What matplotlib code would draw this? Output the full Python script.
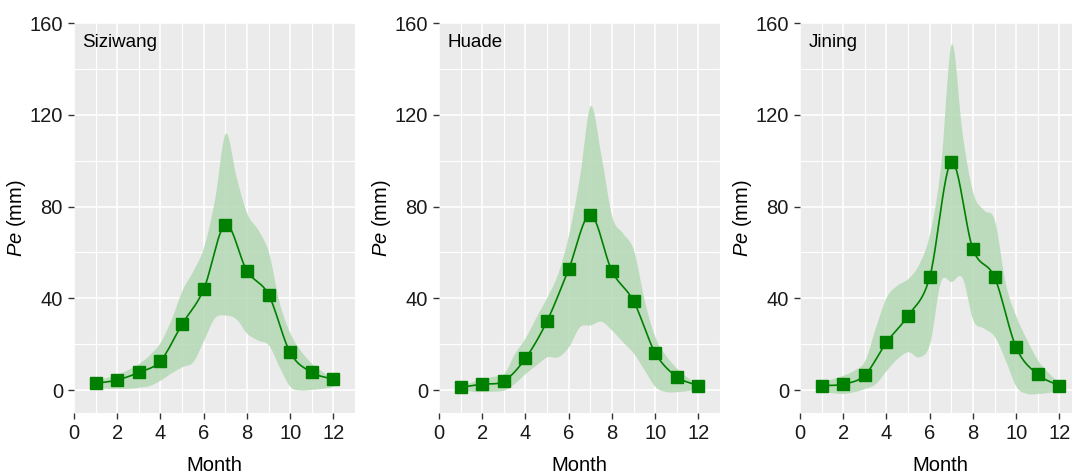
import numpy as np
import matplotlib
matplotlib.use("Agg")
import matplotlib.pyplot as plt
from matplotlib.ticker import MultipleLocator

plt.rcParams['font.family'] = ['Liberation Sans', 'DejaVu Sans']
plt.rcParams['mathtext.fontset'] = 'custom'
plt.rcParams['mathtext.it'] = 'Liberation Sans:italic'
plt.rcParams['mathtext.rm'] = 'Liberation Sans'

# monthly mean effective precipitation (markers)
months = np.arange(1, 13)
stations = ['Siziwang', 'Huade', 'Jining']
pe_siziwang = [2.9, 4.4, 7.7, 12.7, 28.7, 43.9, 72.0, 52.0, 41.6, 16.4, 7.7, 4.7]
pe_huade = [1.2, 2.6, 3.9, 13.8, 30.1, 52.7, 76.4, 51.9, 38.8, 16.3, 5.8, 1.9]
pe_jining = [1.9, 2.6, 6.5, 20.8, 32.4, 49.2, 99.3, 61.4, 49.2, 18.6, 6.8, 1.9]

# range band, read every half month
band_x = np.arange(1, 12.5, 0.5)
upper_siziwang = [4.0, 5.5, 6.8, 9.0, 11.6, 15.5, 21.0, 31.0, 43.6, 52.0, 62.5, 83.0, 112.0, 93.0,
                  77.0, 70.0, 60.0, 38.0, 24.7, 17.0, 11.6, 8.0, 4.6]
lower_siziwang = [1.5, 0.8, 0.7, 0.8, 1.2, 2.0, 4.4, 7.5, 10.2, 12.4, 21.8, 31.5, 32.7, 31.0,
                  24.7, 21.8, 19.6, 10.0, 1.5, 0.0, 0.3, 0.8, 1.5]
upper_huade = [1.8, 3.5, 5.0, 6.0, 7.3, 16.0, 23.0, 32.0, 40.7, 51.0, 68.0, 93.0, 124.0, 102.0,
               75.6, 68.4, 61.0, 39.0, 23.0, 15.0, 9.5, 5.5, 3.0]
lower_huade = [0.5, -0.5, -0.7, -0.5, 0.0, 3.0, 7.3, 11.0, 14.5, 14.5, 19.0, 27.6, 28.4, 30.0,
               26.0, 21.0, 16.0, 8.7, 1.5, -0.7, -0.7, -0.2, 0.7]
upper_jining = [3.5, 5.0, 6.5, 8.7, 13.0, 27.6, 40.7, 45.8, 48.7, 55.0, 68.4, 97.5, 151.0, 112.0,
                86.0, 78.5, 74.0, 46.5, 32.0, 21.8, 13.0, 7.5, 3.0]
lower_jining = [-0.5, -1.2, -1.5, -0.7, 0.7, 2.9, 8.7, 13.8, 16.7, 14.5, 20.4, 47.3, 47.3, 49.0,
                30.5, 27.0, 23.3, 13.0, 1.5, -1.5, -1.5, -1.0, 0.0]

pe_all = [pe_siziwang, pe_huade, pe_jining]
upper_all = [upper_siziwang, upper_huade, upper_jining]
lower_all = [lower_siziwang, lower_huade, lower_jining]


def smooth(x, y, n=12):
    # catmull-rom spline through the points, just for drawing
    x = np.asarray(x, float)
    y = np.asarray(y, float)
    px = np.concatenate([[2 * x[0] - x[1]], x, [2 * x[-1] - x[-2]]])
    py = np.concatenate([[2 * y[0] - y[1]], y, [2 * y[-1] - y[-2]]])
    xs, ys = [], []
    t = np.linspace(0, 1, n, endpoint=False)
    for i in range(1, len(px) - 2):
        for p, out in ((px, xs), (py, ys)):
            p0, p1, p2, p3 = p[i - 1], p[i], p[i + 1], p[i + 2]
            out.extend(0.5 * (2 * p1 + (-p0 + p2) * t + (2 * p0 - 5 * p1 + 4 * p2 - p3) * t ** 2
                              + (-p0 + 3 * p1 - 3 * p2 + p3) * t ** 3))
    xs.append(x[-1])
    ys.append(y[-1])
    return np.array(xs), np.array(ys)


fig = plt.figure(figsize=(10.72, 4.76), dpi=100)
lefts = [74, 439, 800]
green = '#008000'

for k, name in enumerate(stations):
    ax = fig.add_axes([lefts[k] / 1072, 1 - 413 / 476, 281 / 1072, 390 / 476])
    ax.set_facecolor('#ebebeb')
    for s in ax.spines.values():
        s.set_visible(False)

    bx, bu = smooth(band_x, upper_all[k])
    _, bl = smooth(band_x, lower_all[k])
    ax.fill_between(bx, bl, bu, color='#b4d9b4', alpha=0.85, lw=0, zorder=2)

    lx, ly = smooth(months, pe_all[k])
    ax.plot(lx, ly, color=green, lw=1.2, zorder=3)
    ax.plot(months, pe_all[k], 's', color=green, ms=8.5, zorder=4)

    ax.set_xlim(0, 13)
    ax.set_ylim(-10, 160)
    ax.set_xticks(range(0, 13, 2))
    ax.set_yticks([0, 40, 80, 120, 160])
    ax.xaxis.set_minor_locator(MultipleLocator(1))
    ax.yaxis.set_minor_locator(MultipleLocator(20))
    ax.grid(which='major', color='white', lw=1.2, zorder=1)
    ax.grid(which='minor', color='white', lw=0.8, zorder=1)
    ax.set_axisbelow(True)
    ax.tick_params(which='major', length=4, width=1, color='#333333', labelsize=14.5,
                   labelcolor='#1a1a1a', pad=4)
    ax.tick_params(which='minor', length=0)

    ax.set_xlabel('Month', fontsize=14.5, labelpad=9)
    ax.set_ylabel('$\\mathit{Pe}$ (mm)', fontsize=14.5, labelpad=1)
    ax.text(0.03, 0.95, name, transform=ax.transAxes, ha='left', va='center', fontsize=13.5)

fig.savefig('out.png', dpi=100)
